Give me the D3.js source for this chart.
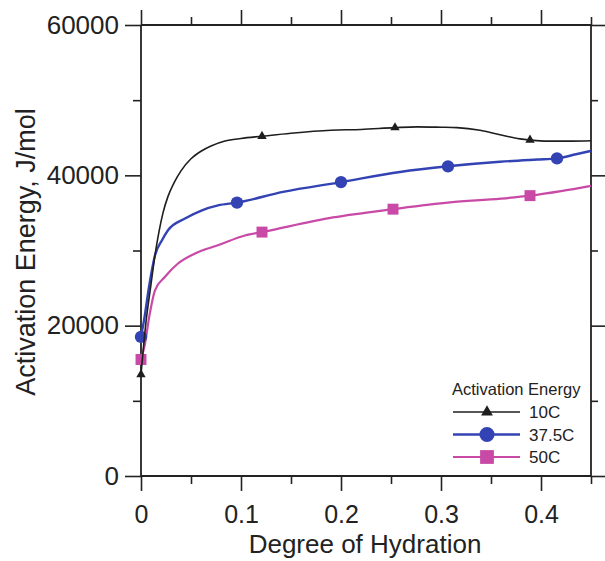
<!DOCTYPE html>
<html>
<head>
<meta charset="utf-8">
<script src="https://cdn.jsdelivr.net/npm/d3@7"></script>
<style>
  html, body { margin: 0; padding: 0; background: #fff; }
  svg { display: block; }
  text { font-family: "Liberation Sans", Arial, Helvetica, sans-serif; fill: #222; }
</style>
</head>
<body>
<svg id="chart" width="605" height="561"></svg>
<script>
// ---- data ----
const seriesNames = ["10C", "37.5C", "50C"];
const legendTitle = "Activation Energy";
const xTitle = "Degree of Hydration";
const yTitle = "Activation Energy, J/mol";

const degree10 = [0, 0.005, 0.01, 0.014, 0.018, 0.022, 0.027, 0.033, 0.04, 0.05, 0.06, 0.07, 0.084, 0.1, 0.121, 0.15, 0.19, 0.22, 0.254, 0.276, 0.3, 0.316, 0.339, 0.359, 0.379, 0.389, 0.406, 0.43, 0.45];
const energy10 = [13500, 20500, 25500, 29370, 32500, 35000, 37200, 39000, 40600, 42200, 43200, 43900, 44560, 44900, 45200, 45600, 46000, 46100, 46350, 46450, 46400, 46350, 46000, 45400, 44850, 44700, 44550, 44550, 44600];

const degree37 = [0, 0.003, 0.008, 0.014, 0.021, 0.027, 0.044, 0.061, 0.077, 0.096, 0.142, 0.2, 0.259, 0.307, 0.359, 0.396, 0.416, 0.435, 0.45];
const energy37 = [18500, 20700, 25150, 29370, 31370, 32700, 34250, 35350, 36000, 36370, 37800, 39100, 40450, 41200, 41800, 42100, 42250, 42800, 43250];

const degree50 = [0, 0.004, 0.008, 0.014, 0.024, 0.037, 0.054, 0.077, 0.104, 0.121, 0.192, 0.252, 0.309, 0.36, 0.389, 0.42, 0.45];
const energy50 = [15500, 17600, 21000, 24700, 26500, 28270, 29600, 30700, 32000, 32450, 34400, 35500, 36400, 36900, 37300, 37900, 38600];

const marker10X = [0, 0.121, 0.254, 0.389];
const marker10Y = [13500, 45200, 46350, 44700];
const marker37X = [0, 0.096, 0.2, 0.307, 0.416];
const marker37Y = [18500, 36370, 39100, 41200, 42250];
const marker50X = [0, 0.121, 0.252, 0.389];
const marker50Y = [15500, 32450, 35500, 37300];

const xMajorTicks = [0, 0.1, 0.2, 0.3, 0.4];
const xMinorTicks = [0.05, 0.15, 0.25, 0.35, 0.45];
const yMajorTicks = [0, 20000, 40000, 60000];
const yMinorTicks = [10000, 30000, 50000];

// ---- styles ----
const colors = ["#1e1e1e", "#3343b3", "#c84aa6"];
const lineWidths = [1.6, 2.4, 2.2];
const symbols = [d3.symbolTriangle, d3.symbolCircle, d3.symbolSquare];
const plotSizes = [38, 120, 120];
const legendSizes = [60, 180, 190];

const svg = d3.select("#chart");
const x = d3.scaleLinear().domain([0, 0.45]).range([141, 591]);
const y = d3.scaleLinear().domain([0, 60000]).range([476, 25]);

const axisColor = "#222";
function styleAxis(g) {
  g.selectAll(".domain").remove();
  g.selectAll(".tick line").attr("stroke", axisColor).attr("stroke-width", 1.6);
}

// frame lines
const frame = svg.append("g").attr("stroke", axisColor).attr("stroke-width", 1.8).attr("fill", "none");
frame.append("line").attr("x1", x(0)).attr("x2", x(0.45)).attr("y1", y(0)).attr("y2", y(0));
frame.append("line").attr("x1", x(0)).attr("x2", x(0.45)).attr("y1", y(60000)).attr("y2", y(60000));
frame.append("line").attr("x1", x(0)).attr("x2", x(0)).attr("y1", y(0)).attr("y2", y(60000));
frame.append("line").attr("x1", x(0.45)).attr("x2", x(0.45)).attr("y1", y(0)).attr("y2", y(60000));

// bottom axis
const gxB = svg.append("g").attr("transform", `translate(0,${y(0)})`)
  .call(d3.axisBottom(x).tickValues(xMajorTicks).tickSize(15).tickPadding(14).tickFormat(d3.format("")));
styleAxis(gxB);
gxB.selectAll(".tick text").style("font-size", "25px").attr("fill", "#222");
const gxBm = svg.append("g").attr("transform", `translate(0,${y(0)})`)
  .call(d3.axisBottom(x).tickValues(xMinorTicks).tickSize(8).tickFormat(""));
styleAxis(gxBm);

// top axis
const gxT = svg.append("g").attr("transform", `translate(0,${y(60000)})`)
  .call(d3.axisTop(x).tickValues(xMajorTicks).tickSize(15).tickFormat(""));
styleAxis(gxT);
const gxTm = svg.append("g").attr("transform", `translate(0,${y(60000)})`)
  .call(d3.axisTop(x).tickValues(xMinorTicks).tickSize(8).tickFormat(""));
styleAxis(gxTm);

// left axis
const gyL = svg.append("g").attr("transform", `translate(${x(0)},0)`)
  .call(d3.axisLeft(y).tickValues(yMajorTicks).tickSize(16).tickPadding(6).tickFormat(d3.format("d")));
styleAxis(gyL);
gyL.selectAll(".tick text").style("font-size", "26px").attr("fill", "#222");
const gyLm = svg.append("g").attr("transform", `translate(${x(0)},0)`)
  .call(d3.axisLeft(y).tickValues(yMinorTicks).tickSize(8).tickFormat(""));
styleAxis(gyLm);

// right axis
const gyR = svg.append("g").attr("transform", `translate(${x(0.45)},0)`)
  .call(d3.axisRight(y).tickValues(yMajorTicks).tickSize(15).tickFormat(""));
styleAxis(gyR);
const gyRm = svg.append("g").attr("transform", `translate(${x(0.45)},0)`)
  .call(d3.axisRight(y).tickValues(yMinorTicks).tickSize(7).tickFormat(""));
styleAxis(gyRm);

// axis titles
svg.append("text").attr("x", 365).attr("y", 553).attr("text-anchor", "middle")
  .style("font-size", "26px").text(xTitle);
svg.append("text").attr("transform", "translate(35,252) rotate(-90)").attr("text-anchor", "middle")
  .style("font-size", "27px").text(yTitle);

// series
const series = [
  { xs: degree10, ys: energy10, mx: marker10X, my: marker10Y },
  { xs: degree37, ys: energy37, mx: marker37X, my: marker37Y },
  { xs: degree50, ys: energy50, mx: marker50X, my: marker50Y }
];
const line = d3.line().x(d => x(d[0])).y(d => y(d[1])).curve(d3.curveMonotoneX);

// draw in order pink, blue, black so black sits on top like the reference
[2, 1, 0].forEach(i => {
  const s = series[i];
  const pts = s.xs.map((v, k) => [v, s.ys[k]]);
  svg.append("path").datum(pts).attr("d", line)
    .attr("fill", "none").attr("stroke", colors[i]).attr("stroke-width", lineWidths[i])
    .attr("stroke-linejoin", "round");
  const mpts = s.mx.map((v, k) => [v, s.my[k]]);
  svg.append("g").selectAll("path").data(mpts).join("path")
    .attr("transform", d => `translate(${x(d[0])},${y(d[1])})`)
    .attr("d", d3.symbol().type(symbols[i]).size(plotSizes[i]))
    .attr("fill", colors[i]);
});

// legend
const lg = svg.append("g");
lg.append("text").attr("x", 452).attr("y", 395).style("font-size", "16.5px").text(legendTitle);
const rowY = [412, 434.5, 457];
seriesNames.forEach((name, i) => {
  lg.append("line").attr("x1", 453).attr("x2", 520).attr("y1", rowY[i]).attr("y2", rowY[i])
    .attr("stroke", colors[i]).attr("stroke-width", lineWidths[i]);
  lg.append("path").attr("transform", `translate(487,${rowY[i]})`)
    .attr("d", d3.symbol().type(symbols[i]).size(legendSizes[i])).attr("fill", colors[i]);
  lg.append("text").attr("x", 529).attr("y", rowY[i] + 6).style("font-size", "17px").text(name);
});
</script>
</body>
</html>
